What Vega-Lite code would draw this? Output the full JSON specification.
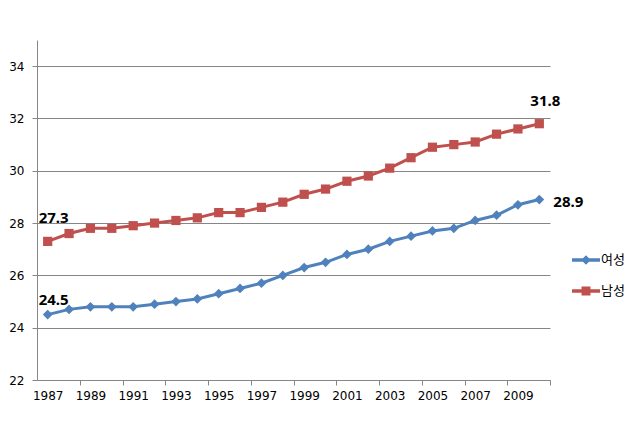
{
  "$schema": "https://vega.github.io/schema/vega-lite/v6.json",
  "width": 513,
  "height": 340,
  "autosize": {"type": "none"},
  "padding": {"left": 37, "top": 40, "right": 91, "bottom": 48},
  "background": "white",
  "config": {
    "view": {"stroke": null},
    "font": "Noto Sans CJK KR",
    "axis": {
      "labelFont": "DejaVu Sans",
      "labelFontSize": 12,
      "labelColor": "#000000",
      "domainColor": "#868686",
      "tickColor": "#868686",
      "gridColor": "#868686",
      "domainWidth": 1,
      "tickWidth": 1,
      "gridWidth": 1,
      "tickSize": 5,
      "title": null
    }
  },
  "data": {
    "values": [
      {"year": 1987, "sex": "여성", "value": 24.5},
      {"year": 1988, "sex": "여성", "value": 24.7},
      {"year": 1989, "sex": "여성", "value": 24.8},
      {"year": 1990, "sex": "여성", "value": 24.8},
      {"year": 1991, "sex": "여성", "value": 24.8},
      {"year": 1992, "sex": "여성", "value": 24.9},
      {"year": 1993, "sex": "여성", "value": 25.0},
      {"year": 1994, "sex": "여성", "value": 25.1},
      {"year": 1995, "sex": "여성", "value": 25.3},
      {"year": 1996, "sex": "여성", "value": 25.5},
      {"year": 1997, "sex": "여성", "value": 25.7},
      {"year": 1998, "sex": "여성", "value": 26.0},
      {"year": 1999, "sex": "여성", "value": 26.3},
      {"year": 2000, "sex": "여성", "value": 26.5},
      {"year": 2001, "sex": "여성", "value": 26.8},
      {"year": 2002, "sex": "여성", "value": 27.0},
      {"year": 2003, "sex": "여성", "value": 27.3},
      {"year": 2004, "sex": "여성", "value": 27.5},
      {"year": 2005, "sex": "여성", "value": 27.7},
      {"year": 2006, "sex": "여성", "value": 27.8},
      {"year": 2007, "sex": "여성", "value": 28.1},
      {"year": 2008, "sex": "여성", "value": 28.3},
      {"year": 2009, "sex": "여성", "value": 28.7},
      {"year": 2010, "sex": "여성", "value": 28.9},
      {"year": 1987, "sex": "남성", "value": 27.3},
      {"year": 1988, "sex": "남성", "value": 27.6},
      {"year": 1989, "sex": "남성", "value": 27.8},
      {"year": 1990, "sex": "남성", "value": 27.8},
      {"year": 1991, "sex": "남성", "value": 27.9},
      {"year": 1992, "sex": "남성", "value": 28.0},
      {"year": 1993, "sex": "남성", "value": 28.1},
      {"year": 1994, "sex": "남성", "value": 28.2},
      {"year": 1995, "sex": "남성", "value": 28.4},
      {"year": 1996, "sex": "남성", "value": 28.4},
      {"year": 1997, "sex": "남성", "value": 28.6},
      {"year": 1998, "sex": "남성", "value": 28.8},
      {"year": 1999, "sex": "남성", "value": 29.1},
      {"year": 2000, "sex": "남성", "value": 29.3},
      {"year": 2001, "sex": "남성", "value": 29.6},
      {"year": 2002, "sex": "남성", "value": 29.8},
      {"year": 2003, "sex": "남성", "value": 30.1},
      {"year": 2004, "sex": "남성", "value": 30.5},
      {"year": 2005, "sex": "남성", "value": 30.9},
      {"year": 2006, "sex": "남성", "value": 31.0},
      {"year": 2007, "sex": "남성", "value": 31.1},
      {"year": 2008, "sex": "남성", "value": 31.4},
      {"year": 2009, "sex": "남성", "value": 31.6},
      {"year": 2010, "sex": "남성", "value": 31.8}
    ]
  },
  "encoding": {
    "x": {
      "field": "year",
      "type": "ordinal",
      "scale": {"type": "band", "paddingInner": 0, "paddingOuter": 0},
      "axis": {
        "values": [1988, 1990, 1992, 1994, 1996, 1998, 2000, 2002, 2004, 2006, 2008, 2010],
        "tickBand": "center",
        "tickOffset": 10.6875,
        "labelExpr": "isFinite(+datum.value) && +datum.value > 1900 ? '' + (+datum.value - 1) : ''",
        "labelOffset": -32.0625,
        "labelAngle": 0,
        "labelPadding": 5,
        "grid": false
      }
    },
    "y": {
      "field": "value",
      "type": "quantitative",
      "scale": {"domain": [22, 35], "nice": false, "zero": false},
      "axis": {
        "values": [22, 24, 26, 28, 30, 32, 34],
        "grid": true,
        "labelPadding": 8,
        "domain": true
      }
    }
  },
  "layer": [
    {
      "mark": {"type": "line", "strokeWidth": 3},
      "encoding": {
        "color": {
          "field": "sex",
          "type": "nominal",
          "scale": {"domain": ["여성", "남성"], "range": ["#4F81BD", "#C0504D"]},
          "legend": {
            "title": null,
            "orient": "none",
            "legendX": 535,
            "legendY": 206,
            "padding": 0,
            "symbolSize": 784,
            "rowPadding": 10,
            "labelOffset": 1,
            "labelFontSize": 13,
            "labelColor": "#000000",
            "labelFont": "Noto Sans CJK KR",
            "encode": {
              "symbols": {
                "update": {
                  "shape": {"signal": "datum.value === '여성' ? 'M-1,-0.12H1V0.12H-1Z M0,-0.34L0.34,0L0,0.34L-0.34,0Z' : 'M-1,-0.12H1V0.12H-1Z M-0.32,-0.32H0.32V0.32H-0.32Z'"},
                  "fill": {"signal": "datum.value === '여성' ? '#4F81BD' : '#C0504D'"},
                  "fillOpacity": {"value": 1},
                  "strokeWidth": {"value": 0}
                }
              }
            }
          }
        }
      }
    },
    {
      "transform": [{"filter": "datum.sex === '여성'"}],
      "mark": {"type": "point", "filled": true, "size": 95, "opacity": 1, "shape": "diamond", "color": "#4F81BD"}
    },
    {
      "transform": [{"filter": "datum.sex === '남성'"}],
      "mark": {"type": "point", "filled": true, "size": 85, "opacity": 1, "shape": "square", "color": "#C0504D"}
    },
    {
      "transform": [{"filter": "datum.sex === '여성' && datum.year === 1987"}],
      "mark": {"type": "text", "fontSize": 15, "fontWeight": "bold", "font": "Noto Sans", "color": "#000000", "dx": 6, "dy": -15, "baseline": "middle"},
      "encoding": {"text": {"field": "value", "type": "quantitative", "format": ".1f"}}
    },
    {
      "transform": [{"filter": "datum.sex === '남성' && (datum.year === 1987 || datum.year === 2010)"}],
      "mark": {"type": "text", "fontSize": 15, "fontWeight": "bold", "font": "Noto Sans", "color": "#000000", "dx": 6, "dy": -23, "baseline": "middle"},
      "encoding": {"text": {"field": "value", "type": "quantitative", "format": ".1f"}}
    },
    {
      "transform": [{"filter": "datum.sex === '여성' && datum.year === 2010"}],
      "mark": {"type": "text", "fontSize": 15, "fontWeight": "bold", "font": "Noto Sans", "color": "#000000", "dx": 14, "dy": 2, "align": "left", "baseline": "middle"},
      "encoding": {"text": {"field": "value", "type": "quantitative", "format": ".1f"}}
    }
  ]
}
